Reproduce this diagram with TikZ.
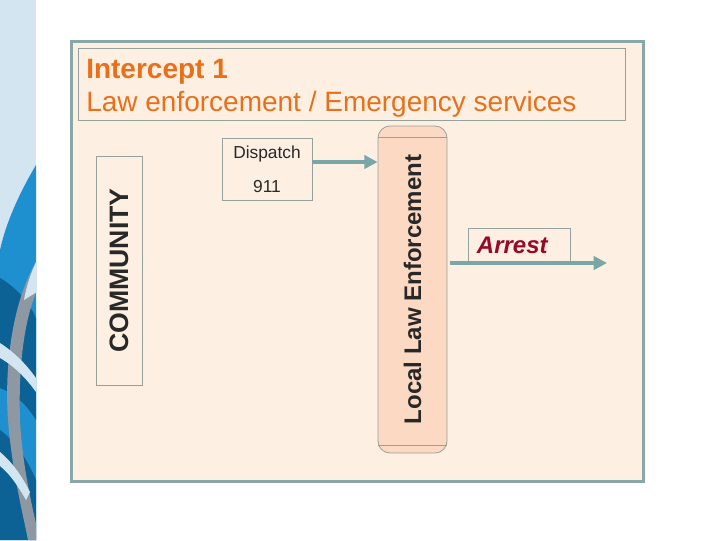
\documentclass[tikz,border=0pt]{standalone}
\usepackage{fontspec}
\setmainfont{Liberation Sans}
\usetikzlibrary{arrows.meta, positioning}

\definecolor{stripblue}{RGB}{212,229,242}
\definecolor{brightblue}{RGB}{30,144,208}
\definecolor{darkblue}{RGB}{12,98,148}
\definecolor{stripgray}{RGB}{142,152,162}
\definecolor{framec}{RGB}{136,168,168}
\definecolor{panelc}{RGB}{253,240,226}
\definecolor{linec}{RGB}{150,160,156}
\definecolor{lawc}{RGB}{252,217,194}
\definecolor{flowc}{RGB}{122,166,168}
\definecolor{titlec}{RGB}{232,112,26}
\definecolor{textc}{RGB}{40,40,40}
\definecolor{arrestc}{RGB}{150,10,40}

\begin{document}
\begin{tikzpicture}[
    x=0.75pt, y=-0.75pt,
    frame/.style    = {draw=framec, line width=2.25pt, fill=panelc},
    box/.style      = {rectangle, draw=linec, line width=0.6pt, inner sep=0pt,
                       align=center, text=textc},
    sidebox/.style  = {box, minimum width=34.5pt, minimum height=171.75pt,
                       font=\fontsize{20}{24}\selectfont\bfseries},
    lawbox/.style   = {box, rounded corners=9pt, fill=lawc, minimum width=51.75pt,
                       minimum height=245.25pt, font=\fontsize{18}{22}\selectfont\bfseries},
    title/.style    = {anchor=base west, inner sep=0pt, text=titlec,
                       font=\fontsize{21}{25}\selectfont},
    flow/.style     = {draw=flowc, line width=3.5pt,
                       -{Triangle[length=10pt, width=10pt]}},
]

% page and side strip
\fill[white] (0,0) rectangle (720,540);
\useasboundingbox (0,0) rectangle (720,540);
\begin{scope}
  \clip (0,0) rectangle (36,540);
  \fill[stripblue] (0,0) rectangle (36,540);
  \fill[brightblue] (36,165) .. controls (20,192) and (6,222) .. (0,250) -- (0,540) -- (36,540) -- cycle;
  \fill[darkblue] (0,278) .. controls (14,286) and (28,300) .. (36,318) -- (36,420)
                  .. controls (24,400) and (10,392) .. (0,388) -- cycle;
  \fill[darkblue] (0,430) .. controls (14,440) and (28,460) .. (36,480) -- (36,540) -- (0,540) -- cycle;
  \fill[stripgray] (36,262) .. controls (14,300) and (4,360) .. (8,420)
                   .. controls (12,470) and (22,510) .. (28,540) -- (40,540)
                   .. controls (30,500) and (22,460) .. (20,420)
                   .. controls (18,360) and (26,310) .. (40,285) -- cycle;
  \fill[stripblue] (36,262) .. controls (30,275) and (26,288) .. (24,300) -- (40,290) -- cycle;
  \fill[stripblue] (0,343) .. controls (14,352) and (26,364) .. (36,378) -- (36,392)
                   .. controls (26,378) and (14,366) .. (0,358) -- cycle;
  \fill[stripblue] (0,452) .. controls (12,462) and (22,476) .. (30,492) -- (26,500)
                   .. controls (18,486) and (10,474) .. (0,466) -- cycle;
\end{scope}

% panel and heading
\draw[frame] (71,41) rectangle (643,481);
\draw[linec, line width=0.6pt] (78,48) rectangle (625,120);
\node[title, font=\fontsize{21}{25}\selectfont\bfseries] (intercept) at (86,78) {Intercept 1};
\node[title] (subtitle) at (86,111) {Law enforcement / Emergency services};

% boxes
\node[sidebox]  (community) at (119,270.5) {\rotatebox{90}{COMMUNITY}};
\node[box, minimum width=67.5pt, minimum height=46.5pt,
      font=\fontsize{13}{15.6}\selectfont] (dispatch) at (267,169) {Dispatch\\[10pt]911};
\node[lawbox]   (law) at (412.5,289.5) {\rotatebox{90}{Local Law Enforcement}};
\draw[linec, line width=0.6pt] ([yshift=-9pt]law.north west) -- ([yshift=-9pt]law.north east);
\draw[linec, line width=0.6pt] ([yshift=6pt]law.south west) -- ([yshift=6pt]law.south east);
\node[box, minimum width=76.5pt, minimum height=25.5pt, text=arrestc,
      font=\fontsize{18}{22}\selectfont\bfseries\itshape] (arrest) at (519,245) {\hspace{-10pt}Arrest};

% connectors
\coordinate (out) at (607,263);
\draw[flow] ([yshift=5.25pt]dispatch.east) -- ([yshift=5.25pt]dispatch.east -| law.west);
\draw[flow] ([xshift=2pt]law.east |- out) -- (out);

\end{tikzpicture}
\end{document}
